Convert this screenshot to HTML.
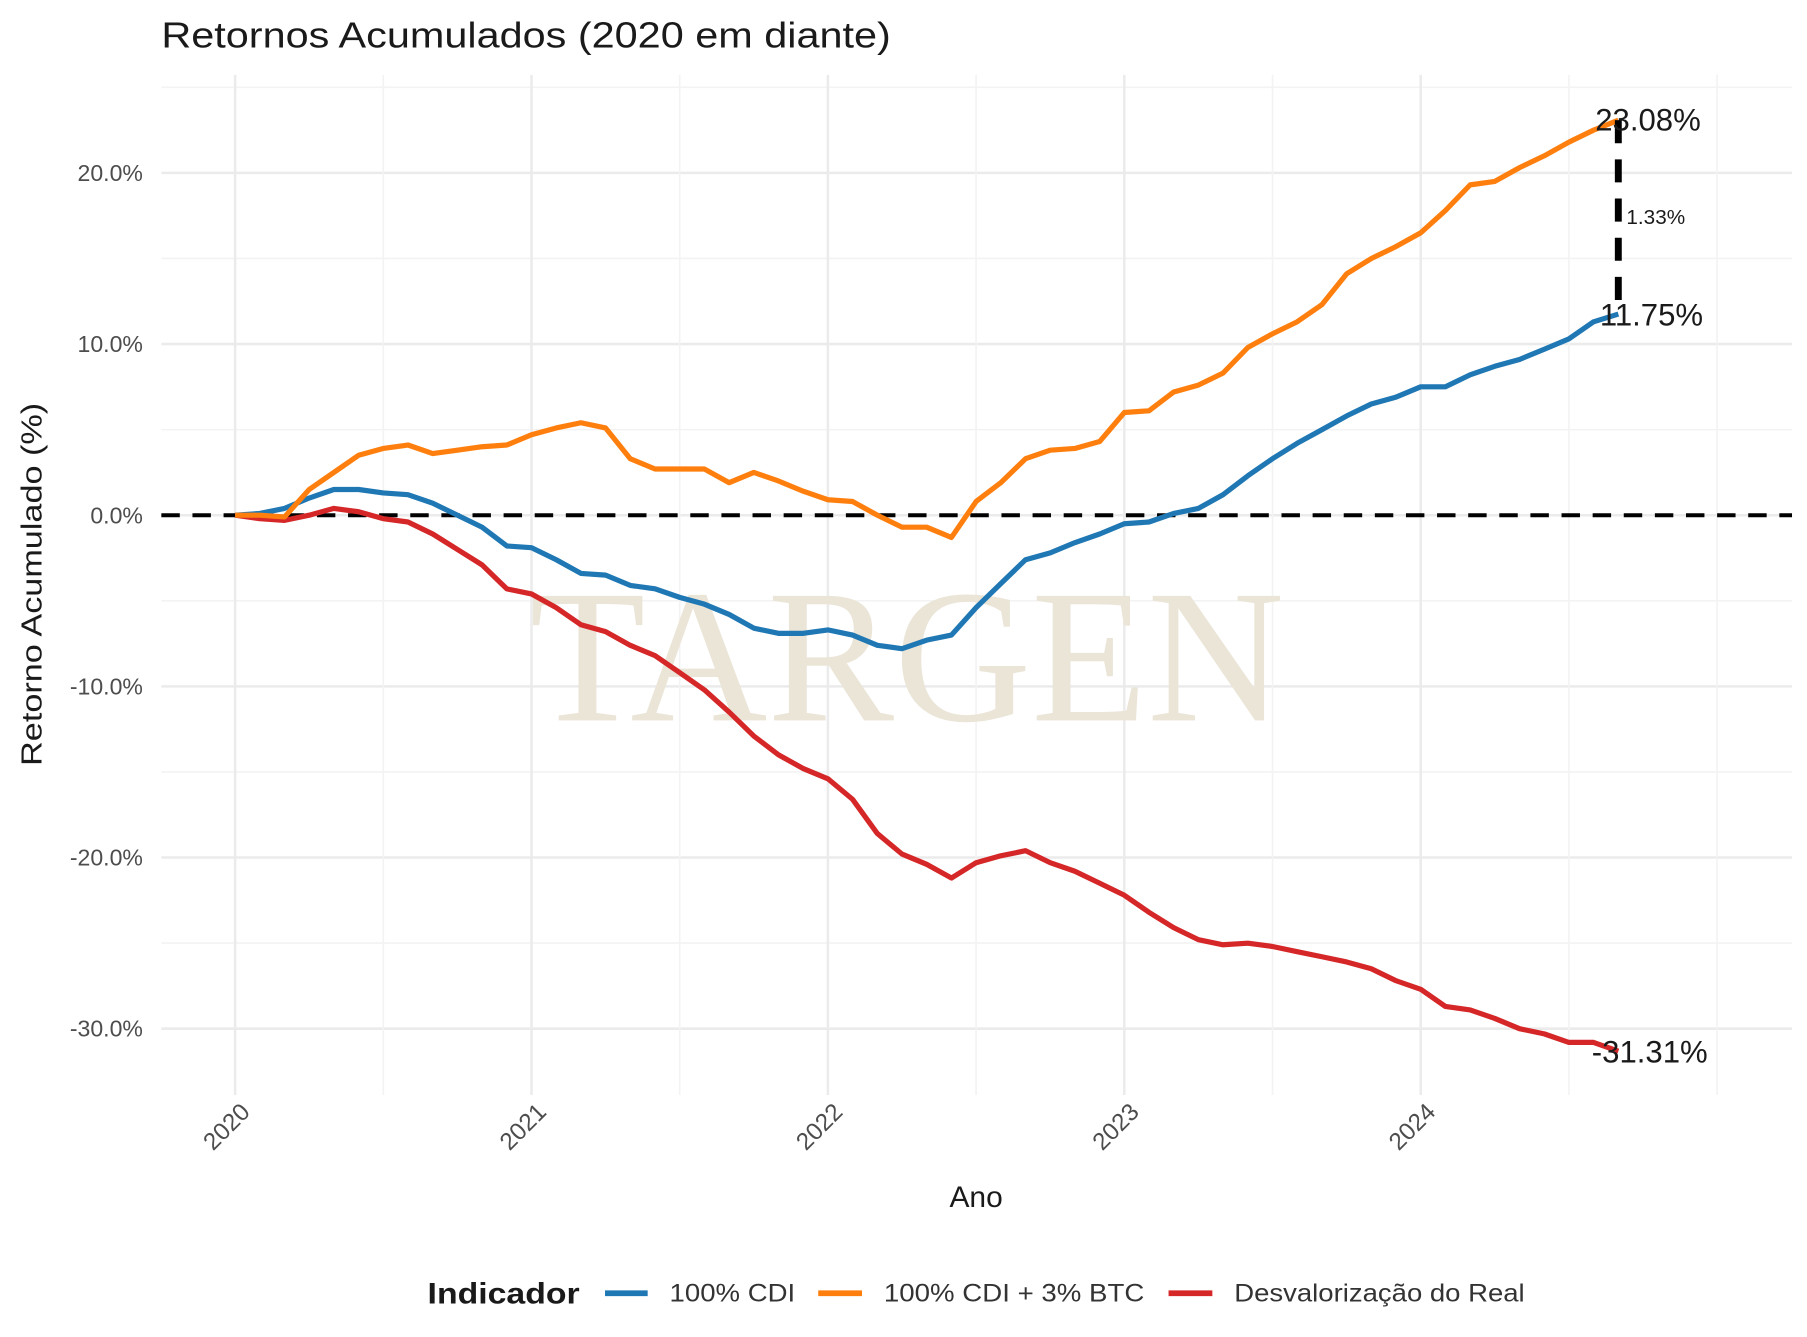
<!DOCTYPE html>
<html><head><meta charset="utf-8"><style>
html,body{margin:0;padding:0;background:#fff;}
svg{display:block;font-family:"Liberation Sans",sans-serif;}
</style></head><body>
<svg id="chart" width="1807" height="1337" viewBox="0 0 1568 1160" preserveAspectRatio="none" xmlns="http://www.w3.org/2000/svg">
<text x="140" y="41" font-size="31" fill="#1a1a1a" textLength="633" lengthAdjust="spacingAndGlyphs">Retornos Acumulados (2020 em diante)</text>
<g id="grid"></g>
<text x="787" y="625" font-family="'Liberation Serif',serif" font-size="165" fill="#ebe5d8" text-anchor="middle" textLength="655" lengthAdjust="spacingAndGlyphs">TARGEN</text>
<g id="series"></g>
<g id="annot"></g>
<text transform="translate(36,507) rotate(-90)" font-size="25" fill="#1a1a1a" text-anchor="middle" textLength="315" lengthAdjust="spacingAndGlyphs">Retorno Acumulado (%)</text>
<text x="847" y="1047" font-size="26" fill="#1a1a1a" text-anchor="middle">Ano</text>
<g>
<text x="371" y="1131" font-size="26" font-weight="bold" fill="#1a1a1a" textLength="132" lengthAdjust="spacingAndGlyphs">Indicador</text>
<line x1="525" y1="1122" x2="562" y2="1122" stroke="#1f77b4" stroke-width="5"/>
<text x="581" y="1129" font-size="22" fill="#333" textLength="109" lengthAdjust="spacingAndGlyphs">100% CDI</text>
<line x1="710" y1="1122" x2="748" y2="1122" stroke="#ff7f0e" stroke-width="5"/>
<text x="767" y="1129" font-size="22" fill="#333" textLength="226" lengthAdjust="spacingAndGlyphs">100% CDI + 3% BTC</text>
<line x1="1014" y1="1122" x2="1052" y2="1122" stroke="#d62728" stroke-width="5"/>
<text x="1071" y="1129" font-size="22" fill="#333" textLength="252" lengthAdjust="spacingAndGlyphs">Desvalorização do Real</text>
</g>
</svg>
<script>
const yTicks = [20, 10, 0, -10, -20, -30];
const yTickLabels = ["20.0%", "10.0%", "0.0%", "-10.0%", "-20.0%", "-30.0%"];
const xYears = [2020, 2021, 2022, 2023, 2024];
const cdi = [0,0.1,0.4,1.0,1.5,1.5,1.3,1.2,0.7,0.0,-0.7,-1.8,-1.9,-2.6,-3.4,-3.5,-4.1,-4.3,-4.8,-5.2,-5.8,-6.6,-6.9,-6.9,-6.7,-7.0,-7.6,-7.8,-7.3,-7.0,-5.4,-4.0,-2.6,-2.2,-1.6,-1.1,-0.5,-0.4,0.1,0.4,1.2,2.3,3.3,4.2,5.0,5.8,6.5,6.9,7.5,7.5,8.2,8.7,9.1,9.7,10.3,11.3,11.75];
const cdiBtc = [0,0,-0.1,1.5,2.5,3.5,3.9,4.1,3.6,3.8,4.0,4.1,4.7,5.1,5.4,5.1,3.3,2.7,2.7,2.7,1.9,2.5,2.0,1.4,0.9,0.8,0.0,-0.7,-0.7,-1.3,0.8,1.9,3.3,3.8,3.9,4.3,6.0,6.1,7.2,7.6,8.3,9.8,10.6,11.3,12.3,14.1,15.0,15.7,16.5,17.8,19.3,19.5,20.3,21.0,21.8,22.5,23.08];
const real = [0,-0.2,-0.3,0.0,0.4,0.2,-0.2,-0.4,-1.1,-2.0,-2.9,-4.3,-4.6,-5.4,-6.4,-6.8,-7.6,-8.2,-9.2,-10.2,-11.5,-12.9,-14.0,-14.8,-15.4,-16.6,-18.6,-19.8,-20.4,-21.2,-20.3,-19.9,-19.6,-20.3,-20.8,-21.5,-22.2,-23.2,-24.1,-24.8,-25.1,-25.0,-25.2,-25.5,-25.8,-26.1,-26.5,-27.2,-27.7,-28.7,-28.9,-29.4,-30.0,-30.3,-30.8,-30.8,-31.31];
const diffLabel = "1.33%";

const NS = "http://www.w3.org/2000/svg";
const X0 = 204, PXYEAR = 257.2;
const Y0 = 447, PXPCT = 14.85;
const PL = 140, PR = 1555, PT = 65, PB = 950;
function x(monthIdx){ return X0 + monthIdx * PXYEAR / 12; }
function xYear(yr){ return X0 + (yr - 2020) * PXYEAR; }
function y(v){ return Y0 - v * PXPCT; }
function mk(tag, attrs, parent){ const e=document.createElementNS(NS,tag); for(const k in attrs) e.setAttribute(k,attrs[k]); parent.appendChild(e); return e; }

const grid = document.getElementById('grid');
for (let v = -30; v <= 25; v += 5) {
  const major = v % 10 === 0;
  const l = mk('line',{x1:PL,x2:PR,y1:y(v),y2:y(v),stroke:major?'#ebebeb':'#f3f3f3','stroke-width':major?2.2:1.4},grid);
  
  
}
for (let yr = 2020; yr <= 2025; yr += 0.5) {
  const major = Number.isInteger(yr) && yr < 2025;
  const l = mk('line',{x1:xYear(yr),x2:xYear(yr),y1:PT,y2:PB,stroke:major?'#ebebeb':'#f3f3f3','stroke-width':major?2.2:1.4},grid);
  
  
}
yTicks.forEach((v,i)=>{
  const t = mk('text',{x:124,y:y(v)+7,'font-size':20,fill:'#4d4d4d','text-anchor':'end'},grid);
  t.textContent = yTickLabels[i];
  
  
});
xYears.forEach(yr=>{
  const t = mk('text',{transform:`translate(${xYear(yr)+14},${966}) rotate(-45)`,'font-size':21,fill:'#4d4d4d','text-anchor':'end'},grid);
  t.textContent = String(yr);
  
  
});

const series = document.getElementById('series');
{
  const l = mk('line',{x1:PL,x2:PR,y1:y(0),y2:y(0),stroke:'#000','stroke-width':3.5,'stroke-dasharray':'16 11'},series);
  
  
}
function drawLine(arr, color, name){
  const d = arr.map((v,i)=>(i?'L':'M')+x(i).toFixed(1)+' '+y(v).toFixed(1)).join(' ');
  const p = mk('path',{d:d,fill:'none',stroke:color,'stroke-width':4.5,'stroke-linejoin':'round'},series);
  
  
}
drawLine(real, '#d62728', 'line-desvalorizacao-real');
drawLine(cdi, '#1f77b4', 'line-cdi');
drawLine(cdiBtc, '#ff7f0e', 'line-cdi-btc');

const annot = document.getElementById('annot');
const li = cdi.length - 1;
{
  const l = mk('line',{x1:x(li),x2:x(li),y1:y(cdiBtc[li]),y2:y(cdi[li]),stroke:'#000','stroke-width':6,'stroke-dasharray':'20 14'},annot);
  
  
}
function lbl(txt, xx, yy, size, name){
  const t = mk('text',{x:xx,y:yy,'font-size':size,fill:'#1a1a1a'},annot);
  t.textContent = txt;
  
  
}
lbl(cdiBtc[li].toFixed(2)+'%', x(li)-20, y(cdiBtc[li])+9, 27, 'end-label-cdi-btc');
lbl(cdi[li].toFixed(2)+'%', x(li)-16, y(cdi[li])+10, 27, 'end-label-cdi');
lbl(real[li].toFixed(2)+'%', x(li)-23, y(real[li])+10, 27, 'end-label-real');
lbl(diffLabel, x(li)+7, (y(cdiBtc[li])+y(cdi[li]))/2+6, 18, 'difference-label');
</script>
</body></html>
